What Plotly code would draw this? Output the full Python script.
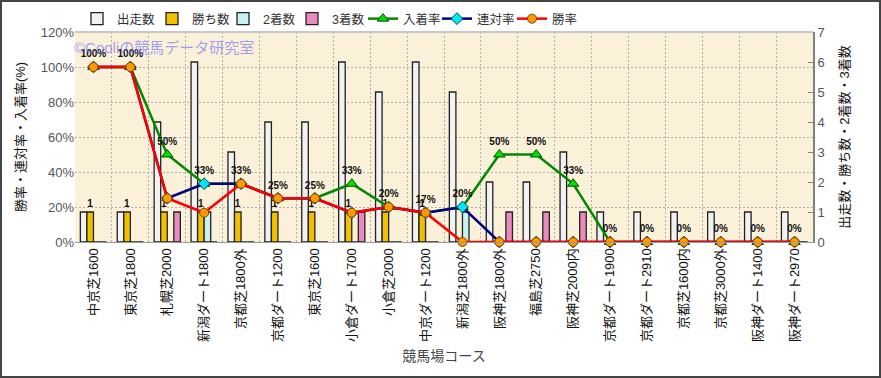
import plotly.graph_objects as go

categories = ["中京芝1600", "東京芝1800", "札幌芝2000", "新潟ダート1800", "京都芝1800外",
              "京都ダート1200", "東京芝1600", "小倉ダート1700", "小倉芝2000", "中京ダート1200",
              "新潟芝1800外", "阪神芝1800外", "福島芝2750", "阪神芝2000内", "京都ダート1900",
              "京都ダート2910", "京都芝1600内", "京都芝3000外", "阪神ダート1400", "阪神ダート2970"]
starts = [1, 1, 4, 6, 3, 4, 4, 6, 5, 6, 5, 2, 2, 3, 1, 1, 1, 1, 1, 1]
wins = [1, 1, 1, 1, 1, 1, 1, 1, 1, 1, 0, 0, 0, 0, 0, 0, 0, 0, 0, 0]
seconds = [0, 0, 0, 1, 0, 0, 0, 0, 0, 0, 1, 0, 0, 0, 0, 0, 0, 0, 0, 0]
thirds = [0, 0, 1, 0, 0, 0, 0, 1, 0, 0, 0, 1, 1, 1, 0, 0, 0, 0, 0, 0]
place_rate = [100, 100, 50, 33.3, 33.3, 25, 25, 33.3, 20, 16.7, 20, 50, 50, 33.3, 0, 0, 0, 0, 0, 0]
rentai_rate = [100, 100, 25, 33.3, 33.3, 25, 25, 16.7, 20, 16.7, 20, 0, 0, 0, 0, 0, 0, 0, 0, 0]
win_rate = [100, 100, 25, 16.7, 33.3, 25, 25, 16.7, 20, 16.7, 0, 0, 0, 0, 0, 0, 0, 0, 0, 0]
place_labels = ["100%", "100%", "50%", "33%", "33%", "25%", "25%", "33%", "20%", "17%",
                "20%", "50%", "50%", "33%", "0%", "0%", "0%", "0%", "0%", "0%"]
win_labels = ["1" if w else "" for w in wins]

FONT = "Liberation Sans, Noto Sans CJK JP, sans-serif"
LBL_FONT = dict(size=10, color="#111111", family=FONT, weight="bold")

fig = go.Figure()
bar_line = dict(color="#222222", width=1.3)
fig.add_trace(go.Bar(name="出走数", x=categories, y=starts, marker=dict(color="#F2F2F2", line=bar_line),
                     yaxis="y", legendwidth=30))
fig.add_trace(go.Bar(name="勝ち数", x=categories, y=wins, marker=dict(color="#F2C000", line=bar_line), yaxis="y",
                     text=win_labels, textposition="outside", constraintext="none", cliponaxis=False,
                     textfont=LBL_FONT, legendwidth=26))
fig.add_trace(go.Bar(name="2着数", x=categories, y=seconds, marker=dict(color="#C8F2F2", line=bar_line),
                     yaxis="y", legendwidth=24))
fig.add_trace(go.Bar(name="3着数", x=categories, y=thirds, marker=dict(color="#E88CC0", line=bar_line),
                     yaxis="y", legendwidth=26))

fig.add_trace(go.Scatter(name="入着率", x=categories, y=place_rate, yaxis="y2", mode="lines+markers+text",
                         line=dict(color="#008A00", width=2.5),
                         marker=dict(symbol="triangle-up", size=10, color="#00E000", line=dict(color="#005000", width=1)),
                         text=place_labels, textposition="top center", cliponaxis=False,
                         textfont=LBL_FONT, legendwidth=29))
fig.add_trace(go.Scatter(name="連対率", x=categories, y=rentai_rate, yaxis="y2", mode="lines+markers",
                         line=dict(color="#000080", width=2.5),
                         marker=dict(symbol="diamond", size=9, color="#00E8F0", line=dict(color="#004060", width=1)),
                         cliponaxis=False, legendwidth=30))
fig.add_trace(go.Scatter(name="勝率", x=categories, y=win_rate, yaxis="y2", mode="lines+markers",
                         line=dict(color="#FF0000", width=2.5),
                         marker=dict(symbol="circle", size=9, color="#FF9900", line=dict(color="#804000", width=1)),
                         cliponaxis=False, legendwidth=26))

L, R, T, B = 75, 68, 32, 136
W, H = 881, 378
pw, ph = W - L - R, H - T - B

fig.update_layout(
    width=W, height=H,
    margin=dict(l=L, r=R, t=T, b=B, pad=0, autoexpand=False),
    paper_bgcolor="white",
    plot_bgcolor="#FBF0D8",
    font=dict(family=FONT, size=13, color="#222222"),
    barmode="group", bargap=0.29, bargroupgap=0,
    showlegend=True,
    legend=dict(orientation="h", x=2 / pw, xanchor="left", y=(H - B - 4) / ph, yanchor="top",
                font=dict(size=12.5, color="#333333"), bgcolor="rgba(0,0,0,0)",
                itemclick=False, tracegroupgap=0, itemwidth=30),
    xaxis=dict(type="category", range=[-0.5, len(categories) - 0.5], tickangle=-90,
               tickson="boundaries", ticks="",
               showgrid=True, gridcolor="#B0B0B0", griddash="2px,2px", gridwidth=1,
               showline=True, linecolor="#999999", linewidth=1, automargin=False,
               tickfont=dict(size=13, color="#111111"),
               title=dict(text="競馬場コース", font=dict(size=14, color="#444444"), standoff=10)),
    yaxis=dict(side="right", range=[0, 7], dtick=1, showgrid=False, zeroline=False,
               showline=True, linecolor="#808080", linewidth=2, automargin=False,
               ticks="inside", ticklen=5, tickcolor="#808080",
               tickfont=dict(size=13, color="#555555"),
               title=dict(text="出走数・勝ち数・2着数・3着数", font=dict(size=13, color="#111111"), standoff=16)),
    yaxis2=dict(side="left", overlaying="y", range=[0, 120], dtick=20, ticksuffix="%",
                showgrid=True, gridcolor="#B0B0B0", griddash="2px,2px", gridwidth=1, zeroline=False,
                automargin=False,
                tickfont=dict(size=13, color="#555555"),
                title=dict(text="勝率・連対率・入着率(%)", font=dict(size=13, color="#111111"), standoff=12)),
    annotations=[dict(text="©Cooliの競馬データ研究室", xref="paper", yref="paper",
                      x=(72 - L) / pw, y=(H - B - 48) / ph, xanchor="left", yanchor="middle",
                      showarrow=False, font=dict(size=15, color="rgba(110,110,255,0.65)", family=FONT))],
    shapes=[
        dict(type="rect", xref="paper", yref="paper",
             x0=(1 - L) / pw, x1=(W - 1 - L) / pw, y0=(H - B - (H - 1)) / ph, y1=(H - B - 1) / ph,
             line=dict(color="#444444", width=2), layer="above"),
        dict(type="line", xref="paper", yref="paper", x0=0, x1=1, y0=1, y1=1,
             line=dict(color="#C8C8C8", width=2), layer="above"),
    ],
)

fig.write_html("out.html", config={"displayModeBar": False},
               post_script="document.body.style.margin='0';document.body.style.overflow='hidden';")
